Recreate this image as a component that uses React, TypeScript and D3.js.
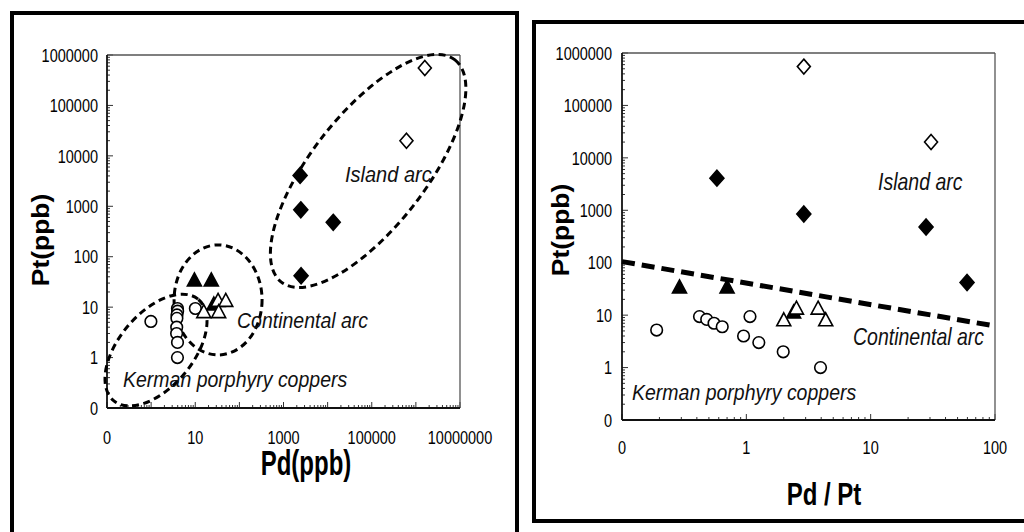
import React from "react";
import * as d3 from "d3";

// ---- data (Pt in ppb, Pd/Pt ratio) ----
const kermanPt = [5.2, 9.4, 8.3, 7.0, 6.0, 4.0, 9.4, 3.0, 2.0, 1.0];
const kermanRatio = [0.19, 0.42, 0.48, 0.55, 0.64, 0.95, 1.07, 1.26, 1.98, 3.95];
const contFilledPt = [33, 33, 11];
const contFilledRatio = [0.29, 0.7, 2.4];
const contOpenPt = [7.8, 13, 13, 7.8];
const contOpenRatio = [2.0, 2.53, 3.78, 4.35];
const islandFilledPt = [4100, 850, 480, 42];
const islandFilledRatio = [0.58, 2.9, 27.9, 59.6];
const islandOpenPt = [550000, 20000];
const islandOpenRatio = [2.9, 30.6];

// discriminant line on the Pd/Pt plot
const boundaryRatio = [0.1, 100];
const boundaryPt = [105, 6.2];

// tick labels
const leftYTicks = [0.1, 1, 10, 100, 1000, 10000, 100000, 1000000];
const leftYLabels = ["0", "1", "10", "100", "1000", "10000", "100000", "1000000"];
const leftXTicks = [0.1, 10, 1000, 100000, 10000000];
const leftXLabels = ["0", "10", "1000", "100000", "10000000"];
const rightXTicks = [0.1, 1, 10, 100];
const rightXLabels = ["0", "1", "10", "100"];

// field ellipses on the Pd–Pt plot (centres in data units)
const fieldNames = ["Kerman", "Continental", "Island"];
const fieldCenterPd = [1.29, 32.9, 82800];
const fieldCenterPt = [1.41, 13.9, 5010];

type Pt = { pt: number; r: number };
const zip = (pt: number[], r: number[]): Pt[] => pt.map((p, i) => ({ pt: p, r: r[i] }));

const groups = [
  { key: "kerman", shape: "circle", fill: false, pts: zip(kermanPt, kermanRatio) },
  { key: "contF", shape: "tri", fill: true, pts: zip(contFilledPt, contFilledRatio) },
  { key: "contO", shape: "tri", fill: false, pts: zip(contOpenPt, contOpenRatio) },
  { key: "islF", shape: "dia", fill: true, pts: zip(islandFilledPt, islandFilledRatio) },
  { key: "islO", shape: "dia", fill: false, pts: zip(islandOpenPt, islandOpenRatio) },
];

const FONT = "'Liberation Sans', Arial, Helvetica, sans-serif";

function Marker({ shape, fill, x, y }: { shape: string; fill: boolean; x: number; y: number }) {
  const f = fill ? "#000" : "#fff";
  const sw = 1.6;
  if (shape === "circle")
    return <circle cx={x} cy={y} r={5.8} fill={f} stroke="#000" strokeWidth={sw} />;
  if (shape === "tri")
    return (
      <path
        d={`M${x},${y - 8} L${x + 7},${y + 5} L${x - 7},${y + 5} Z`}
        fill={f}
        stroke="#000"
        strokeWidth={sw}
        strokeLinejoin="miter"
      />
    );
  const hw = fill ? 7 : 6.5;
  const hh = fill ? 8 : 7.5;
  return (
    <path
      d={`M${x},${y - hh} L${x + hw},${y} L${x},${y + hh} L${x - hw},${y} Z`}
      fill={f}
      stroke="#000"
      strokeWidth={sw}
    />
  );
}

function logTicks(lo: number, hi: number) {
  const out: { v: number; major: boolean }[] = [];
  for (let k = Math.round(Math.log10(lo)); k < Math.round(Math.log10(hi)); k++) {
    for (let m = 1; m <= 9; m++) out.push({ v: m * Math.pow(10, k), major: m === 1 });
  }
  out.push({ v: hi, major: true });
  return out;
}

function Txt({
  x, y, children, size, sx = 1, sy = 1, anchor = "start", weight = "normal", italic = false, rotate = 0, fill = "#111",
}: any) {
  return (
    <text
      transform={`translate(${x},${y}) rotate(${rotate}) scale(${sx},${sy})`}
      fontFamily={FONT}
      fontSize={size}
      fontWeight={weight}
      fontStyle={italic ? "italic" : "normal"}
      textAnchor={anchor}
      fill={fill}
    >
      {children}
    </text>
  );
}

function Axes({ x, y, xDom, yDom }: any) {
  const [x0, x1] = x.range();
  const [y0, y1] = y.range(); // y0 bottom
  const xt = logTicks(xDom[0], xDom[1]);
  const yt = logTicks(yDom[0], yDom[1]);
  return (
    <g>
      {yt.map((t, i) => (
        <line key={"y" + i} x1={x0} x2={x0 + (t.major ? 6 : 3)} y1={y(t.v)} y2={y(t.v)} stroke="#333" strokeWidth={1} />
      ))}
      {xt.map((t, i) => (
        <line key={"x" + i} x1={x(t.v)} x2={x(t.v)} y1={y0} y2={y0 - (t.major ? 6 : 3)} stroke="#333" strokeWidth={1} />
      ))}
      <line x1={x0} x2={x1} y1={y1} y2={y1} stroke="#555" strokeWidth={1.3} />
      <line x1={x1} x2={x1} y1={y1} y2={y0} stroke="#555" strokeWidth={1.3} />
      <line x1={x0} x2={x0} y1={y1} y2={y0} stroke="#111" strokeWidth={1.8} />
      <line x1={x0} x2={x1} y1={y0} y2={y0} stroke="#111" strokeWidth={1.8} />
    </g>
  );
}

export default function App() {
  // left plot: Pt vs Pd
  const lx = d3.scaleLog().domain([0.1, 1e7]).range([107, 460]);
  const ly = d3.scaleLog().domain([0.1, 1e6]).range([408, 55]);
  // right plot: Pt vs Pd/Pt
  const rx = d3.scaleLog().domain([0.1, 100]).range([622, 995]);
  const ry = d3.scaleLog().domain([0.1, 1e6]).range([420, 53]);

  const ellipseGeom: Record<string, { a: number; b: number; ang: number }> = {
    Kerman: { a: 66, b: 37, ang: -50 },
    Continental: { a: 44, b: 55, ang: 0 },
    Island: { a: 141, b: 57, ang: -52 },
  };

  const line = d3
    .line<number>()
    .x((_, i) => rx(boundaryRatio[i]))
    .y((d) => ry(d));

  const tickFs = 14.5;
  const tickSy = 1.28;
  const tickBase = 0.358 * tickFs * tickSy;

  return (
    <svg width={1024} height={532} style={{ position: "absolute", left: 0, top: 0, background: "#fff" }}>
      <rect x={0} y={0} width={1024} height={532} fill="#fff" />
      {/* panel frames */}
      <rect x={12} y={13} width={505} height={540} fill="none" stroke="#000" strokeWidth={4} />
      <rect x={534} y={22} width={500} height={499} fill="none" stroke="#000" strokeWidth={4} />

      {/* ---------- LEFT PANEL ---------- */}
      <Axes x={lx} y={ly} xDom={[0.1, 1e7]} yDom={[0.1, 1e6]} />
      {leftYTicks.map((v, i) => (
        <Txt key={"ly" + i} x={98} y={ly(v) + tickBase} size={tickFs} sy={tickSy} anchor="end" fill="#000">
          {leftYLabels[i]}
        </Txt>
      ))}
      {leftXTicks.map((v, i) => (
        <Txt key={"lx" + i} x={lx(v)} y={437 + tickBase} size={tickFs} sy={tickSy} anchor="middle" fill="#000">
          {leftXLabels[i]}
        </Txt>
      ))}
      <Txt x={49} y={240} size={23} weight="bold" rotate={-90} sx={1.15} anchor="middle" fill="#000">
        Pt(ppb)
      </Txt>
      <Txt x={306} y={475} size={24} weight="bold" sy={1.45} anchor="middle" fill="#000">
        Pd(ppb)
      </Txt>

      {fieldNames.map((n, i) => {
        const g = ellipseGeom[n];
        const cx = lx(fieldCenterPd[i]);
        const cy = ly(fieldCenterPt[i]);
        return (
          <ellipse
            key={n}
            cx={0}
            cy={0}
            rx={g.a}
            ry={g.b}
            transform={`translate(${cx},${cy}) rotate(${g.ang})`}
            fill="none"
            stroke="#000"
            strokeWidth={3}
            strokeDasharray="7 4.5"
          />
        );
      })}

      {groups.map((g) =>
        g.pts.map((p, i) => (
          <Marker key={"L" + g.key + i} shape={g.shape} fill={g.fill} x={lx(p.pt * p.r)} y={ly(p.pt)} />
        ))
      )}

      <Txt x={345} y={182} size={20} italic sy={1.1}>Island arc</Txt>
      <Txt x={237} y={328} size={19.5} italic sy={1.15}>Continental arc</Txt>
      <Txt x={123} y={387} size={19.5} italic sy={1.1}>Kerman porphyry coppers</Txt>

      {/* ---------- RIGHT PANEL ---------- */}
      <Axes x={rx} y={ry} xDom={[0.1, 100]} yDom={[0.1, 1e6]} />
      {leftYTicks.map((v, i) => (
        <Txt key={"ry" + i} x={612} y={ry(v) + tickBase} size={tickFs} sy={tickSy} anchor="end" fill="#000">
          {leftYLabels[i]}
        </Txt>
      ))}
      {rightXTicks.map((v, i) => (
        <Txt key={"rx" + i} x={rx(v)} y={447 + tickBase} size={tickFs} sy={tickSy} anchor="middle" fill="#000">
          {rightXLabels[i]}
        </Txt>
      ))}
      <Txt x={569} y={230} size={23} weight="bold" rotate={-90} sx={1.15} anchor="middle" fill="#000">
        Pt(ppb)
      </Txt>
      <Txt x={824} y={505} size={24} weight="bold" sy={1.3} anchor="middle" fill="#000">
        Pd / Pt
      </Txt>

      <path d={line(boundaryPt) || ""} fill="none" stroke="#000" strokeWidth={5} strokeDasharray="13 7" />

      {groups.map((g) =>
        g.pts.map((p, i) => (
          <Marker key={"R" + g.key + i} shape={g.shape} fill={g.fill} x={rx(p.r)} y={ry(p.pt)} />
        ))
      )}

      <Txt x={878} y={190} size={19.5} italic sy={1.2}>Island arc</Txt>
      <Txt x={853} y={345} size={19.5} italic sy={1.2}>Continental arc</Txt>
      <Txt x={632} y={400} size={19.5} italic sy={1.1}>Kerman porphyry coppers</Txt>
    </svg>
  );
}
